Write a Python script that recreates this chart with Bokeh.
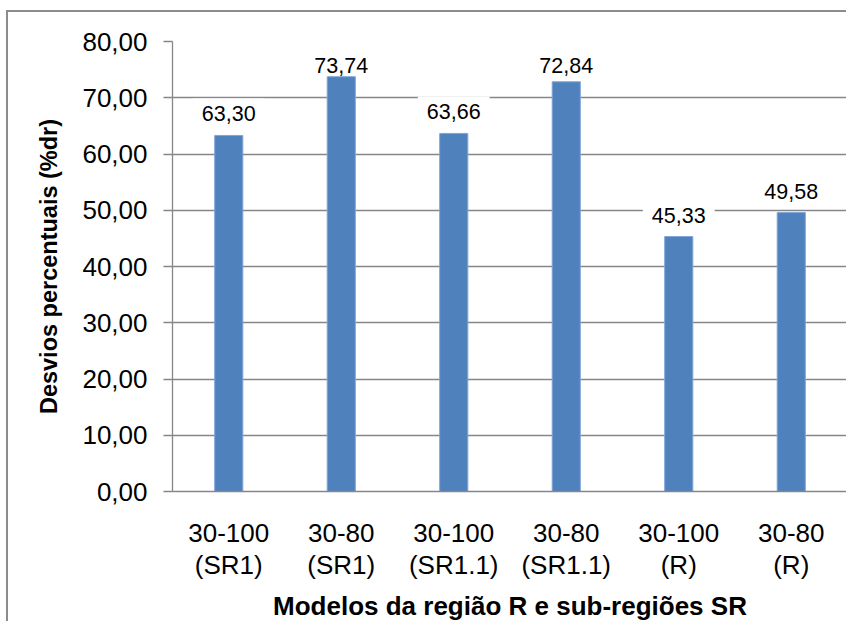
import numpy as np
from bokeh.plotting import figure
from bokeh.models import Range1d, FactorRange, FixedTicker, Label, Title
from bokeh.embed import file_html
from bokeh.resources import INLINE

# ---- data ----
categories = ["30-100\n(SR1)", "30-80\n(SR1)", "30-100\n(SR1.1)",
              "30-80\n(SR1.1)", "30-100\n(R)", "30-80\n(R)"]
values = [63.30, 73.74, 63.66, 72.84, 45.33, 49.58]
value_labels = ["63,30", "73,74", "63,66", "72,84", "45,33", "49,58"]
y_ticks = [0, 10, 20, 30, 40, 50, 60, 70, 80]
y_tick_labels = ["0,00", "10,00", "20,00", "30,00", "40,00",
                 "50,00", "60,00", "70,00", "80,00"]
x_title = "Modelos da região R e sub-regiões SR"
y_title = "Desvios percentuais (%dr)"

FONT = "Liberation Sans"
GRAY = "#868686"
BAR = "#4F81BD"

W, H = 840, 611
p = figure(x_range=FactorRange(*categories), y_range=Range1d(0, 80),
           width=W, height=H, output_backend="svg", toolbar_location=None,
           min_border_left=164, min_border_right=1,
           min_border_top=29, min_border_bottom=129)
p.styles = {"margin-top": "10px", "margin-left": "6px",
            "border-left": "2px solid #8c8c8c",
            "border-top": "2px solid #8c8c8c"}
p.outline_line_color = None
p.background_fill_color = "white"
p.border_fill_color = "white"

# grid
p.xgrid.grid_line_color = None
p.ygrid.ticker = FixedTicker(ticks=y_ticks)
p.ygrid.grid_line_color = GRAY
p.ygrid.grid_line_width = 1.3

# y axis
p.yaxis.ticker = FixedTicker(ticks=y_ticks)
p.yaxis.major_label_overrides = {t: l for t, l in zip(y_ticks, y_tick_labels)}
p.yaxis.axis_line_color = GRAY
p.yaxis.axis_line_width = 1.3
p.yaxis.major_tick_line_color = GRAY
p.yaxis.major_tick_line_width = 1.3
p.yaxis.major_tick_out = 9
p.yaxis.major_tick_in = 0
p.yaxis.minor_tick_line_color = None
p.yaxis.major_label_standoff = 16
p.yaxis.major_label_text_font = FONT
p.yaxis.major_label_text_font_size = "26px"
p.yaxis.major_label_text_color = "black"

# x axis
p.xaxis.axis_line_color = GRAY
p.xaxis.axis_line_width = 1.3
p.xaxis.major_tick_line_color = None
p.xaxis.major_tick_out = 0
p.xaxis.major_tick_in = 0
p.xaxis.minor_tick_line_color = None
p.xaxis.major_label_standoff = 26
p.xaxis.major_label_text_font = FONT
p.xaxis.major_label_text_font_size = "26px"
p.xaxis.major_label_text_line_height = 1.07
p.xaxis.major_label_text_color = "black"
p.xaxis.axis_label = x_title
p.xaxis.axis_label_text_font = FONT
p.xaxis.axis_label_text_font_size = "26px"
p.xaxis.axis_label_text_font_style = "bold"
p.xaxis.axis_label_text_color = "black"
p.xaxis.axis_label_standoff = 8

# y axis title, shifted up as in the original
p.add_layout(Title(text=y_title, align="center", offset=19, standoff=36,
                   text_font=FONT, text_font_size="23.5px",
                   text_font_style="bold", text_color="black"), "left")

# bars
p.vbar(x=categories, top=values, width=0.25, fill_color=BAR,
       line_color="#80A5D8", line_width=1)

# value labels (kept inside the plot area like the original)
label_y = np.minimum(np.array(values), 72.0)
for i, (ly, txt) in enumerate(zip(label_y, value_labels)):
    p.add_layout(Label(x=i + 0.5, y=float(ly), y_offset=24, text=txt,
                       text_align="center", text_baseline="middle",
                       text_font=FONT, text_font_size="21.5px",
                       text_color="black",
                       background_fill_color="white",
                       padding=dict(left=9, right=9, top=8, bottom=3)))

open("out.html", "w").write(file_html(p, INLINE))
